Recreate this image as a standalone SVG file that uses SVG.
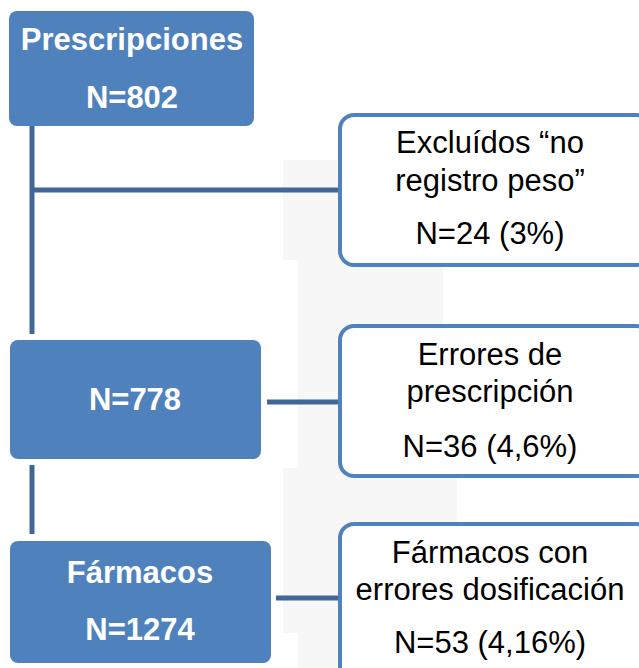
<svg xmlns="http://www.w3.org/2000/svg" width="639" height="668" viewBox="0 0 639 668">
<style>
.bg{fill:#f7f7f7}
.blue{fill:#4f81bd}
.white{fill:#ffffff;stroke:#4f81bd;stroke-width:4}
.conn{stroke:#3f6797;stroke-width:5;fill:none}
.tb{font-family:"Liberation Sans",Arial,sans-serif;font-weight:bold;font-size:31px;fill:#ffffff;text-anchor:middle}
.tn{font-family:"Liberation Sans",Arial,sans-serif;font-size:31px;fill:#000000;text-anchor:middle}
</style>
<rect width="639" height="668" fill="#ffffff"/>
<g id="background">
<rect class="bg" x="283" y="160" width="174" height="100"/>
<rect class="bg" x="298" y="260" width="145" height="208"/>
<rect class="bg" x="283" y="468" width="174" height="165"/>
<rect class="bg" x="298" y="633" width="159" height="35"/>
</g>
<g id="connectors">
<line class="conn" x1="32" y1="126" x2="32" y2="334"/>
<line class="conn" x1="32" y1="190" x2="338" y2="190"/>
<line class="conn" x1="32" y1="465" x2="32" y2="534"/>
<line class="conn" x1="267" y1="402" x2="338" y2="402"/>
<line class="conn" x1="276" y1="598" x2="338" y2="598"/>
</g>
<g id="prescripciones">
<rect class="blue" x="9" y="11" width="245" height="115" rx="8"/>
<text class="tb" x="132" y="50">Prescripciones</text>
<text class="tb" x="132" y="108">N=802</text>
</g>
<g id="excluidos">
<rect class="white" x="340" y="115" width="310" height="150" rx="14"/>
<text class="tn" x="490" y="153">Excluídos “no</text>
<text class="tn" x="490" y="191">registro peso”</text>
<text class="tn" x="490" y="244">N=24 (3%)</text>
</g>
<g id="n778">
<rect class="blue" x="10" y="340" width="251" height="119" rx="8"/>
<text class="tb" x="135" y="410">N=778</text>
</g>
<g id="errores">
<rect class="white" x="340" y="326" width="310" height="150" rx="14"/>
<text class="tn" x="490" y="365">Errores de</text>
<text class="tn" x="490" y="402">prescripción</text>
<text class="tn" x="490" y="457">N=36 (4,6%)</text>
</g>
<g id="farmacos">
<rect class="blue" x="10" y="541" width="261" height="122" rx="8"/>
<text class="tb" x="140" y="583">Fármacos</text>
<text class="tb" x="140" y="640">N=1274</text>
</g>
<g id="farmacos-errores">
<rect class="white" x="340" y="524" width="310" height="160" rx="14"/>
<text class="tn" x="490" y="563">Fármacos con</text>
<text class="tn" x="490" y="600">errores dosificación</text>
<text class="tn" x="490" y="653">N=53 (4,16%)</text>
</g>
</svg>
